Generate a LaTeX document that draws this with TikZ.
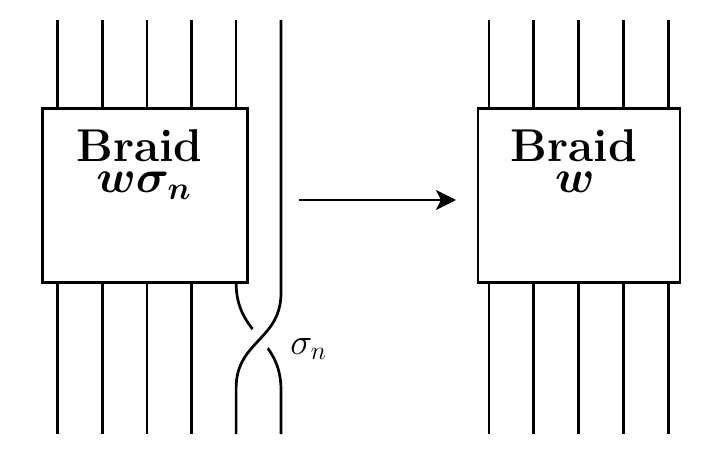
\RequirePackage{fix-cm}
\documentclass[tikz,border=0pt]{standalone}
\usepackage{amsmath,bm}
\usetikzlibrary{arrows.meta}
\begin{document}
\begin{tikzpicture}[x=0.5pt,y=-0.5pt,
  braidbox/.style={draw, rectangle, inner sep=0pt, line width=1.35pt},
  strand/.style={line width=1.35pt},
  overstrand/.style={line width=1.35pt, preaction={draw=white, line width=12pt}},
  boxtext/.style={font=\fontsize{23}{26}\selectfont\bfseries, anchor=base, inner sep=0pt},
  boxmath/.style={font=\fontsize{23}{26}\selectfont, anchor=base, inner sep=0pt},
  gen/.style={font=\fontsize{18.5}{22}\selectfont, anchor=base west, inner sep=0pt},
  mapsto/.style={line width=1.35pt, -{Stealth[length=10pt,width=10pt,inset=2.5pt]}},
]
\useasboundingbox (0,0) rectangle (716,464);
% boxes
\node[braidbox, minimum width=102.6pt, minimum height=87pt] (L) at (145.2,195.3) {};
\node[braidbox, minimum width=101pt, minimum height=87pt] (R) at (579,195.3) {};
% box texts
\node[boxtext] (Lt) at (139.5,162) {Braid};
\node[boxmath] (Lm) at (144,193) {$\bm{w\sigma_n}$};
\node[boxtext] (Rt) at (574,162) {Braid};
\node[boxmath] (Rm) at (575,193) {$\bm{w}$};
% left strands
\foreach \x [count=\i] in {57.7,102.3,146.9,191.5,236.1} {
  \coordinate (lt\i) at (\x,20);
  \coordinate (lb\i) at (\x,434);
  \draw[strand] (lt\i) -- (lt\i |- L.north);
}
\foreach \i in {1,...,4} {
  \draw[strand] (L.south -| lb\i) -- (lb\i);
}
% right strands
\foreach \x [count=\i] in {489,533.8,578.6,623.4,668.2} {
  \coordinate (rt\i) at (\x,20);
  \coordinate (rb\i) at (\x,434);
  \draw[strand] (rt\i) -- (rt\i |- R.north);
  \draw[strand] (R.south -| rb\i) -- (rb\i);
}
% crossing sigma_n
\coordinate (ot) at (281,20);
\coordinate (o1) at (281,293);
\coordinate (o2) at (236.1,388);
\coordinate (u1) at (236.1,282.6);
\coordinate (u2) at (281,390);
\coordinate (ub) at (281,434);
\draw[strand] (u1) .. controls (236.1,336) and (281,337) .. (u2) -- (ub);
\draw[overstrand] (ot) -- (o1) .. controls (281,340) and (236.1,341) .. (o2) -- (lb5);
\node[gen] (sg) at (290,354) {$\sigma_n$};
% arrow
\coordinate (a1) at (299,200);
\coordinate (a2) at (456,200);
\draw[mapsto] (a1) -- (a2);
\end{tikzpicture}
\end{document}
